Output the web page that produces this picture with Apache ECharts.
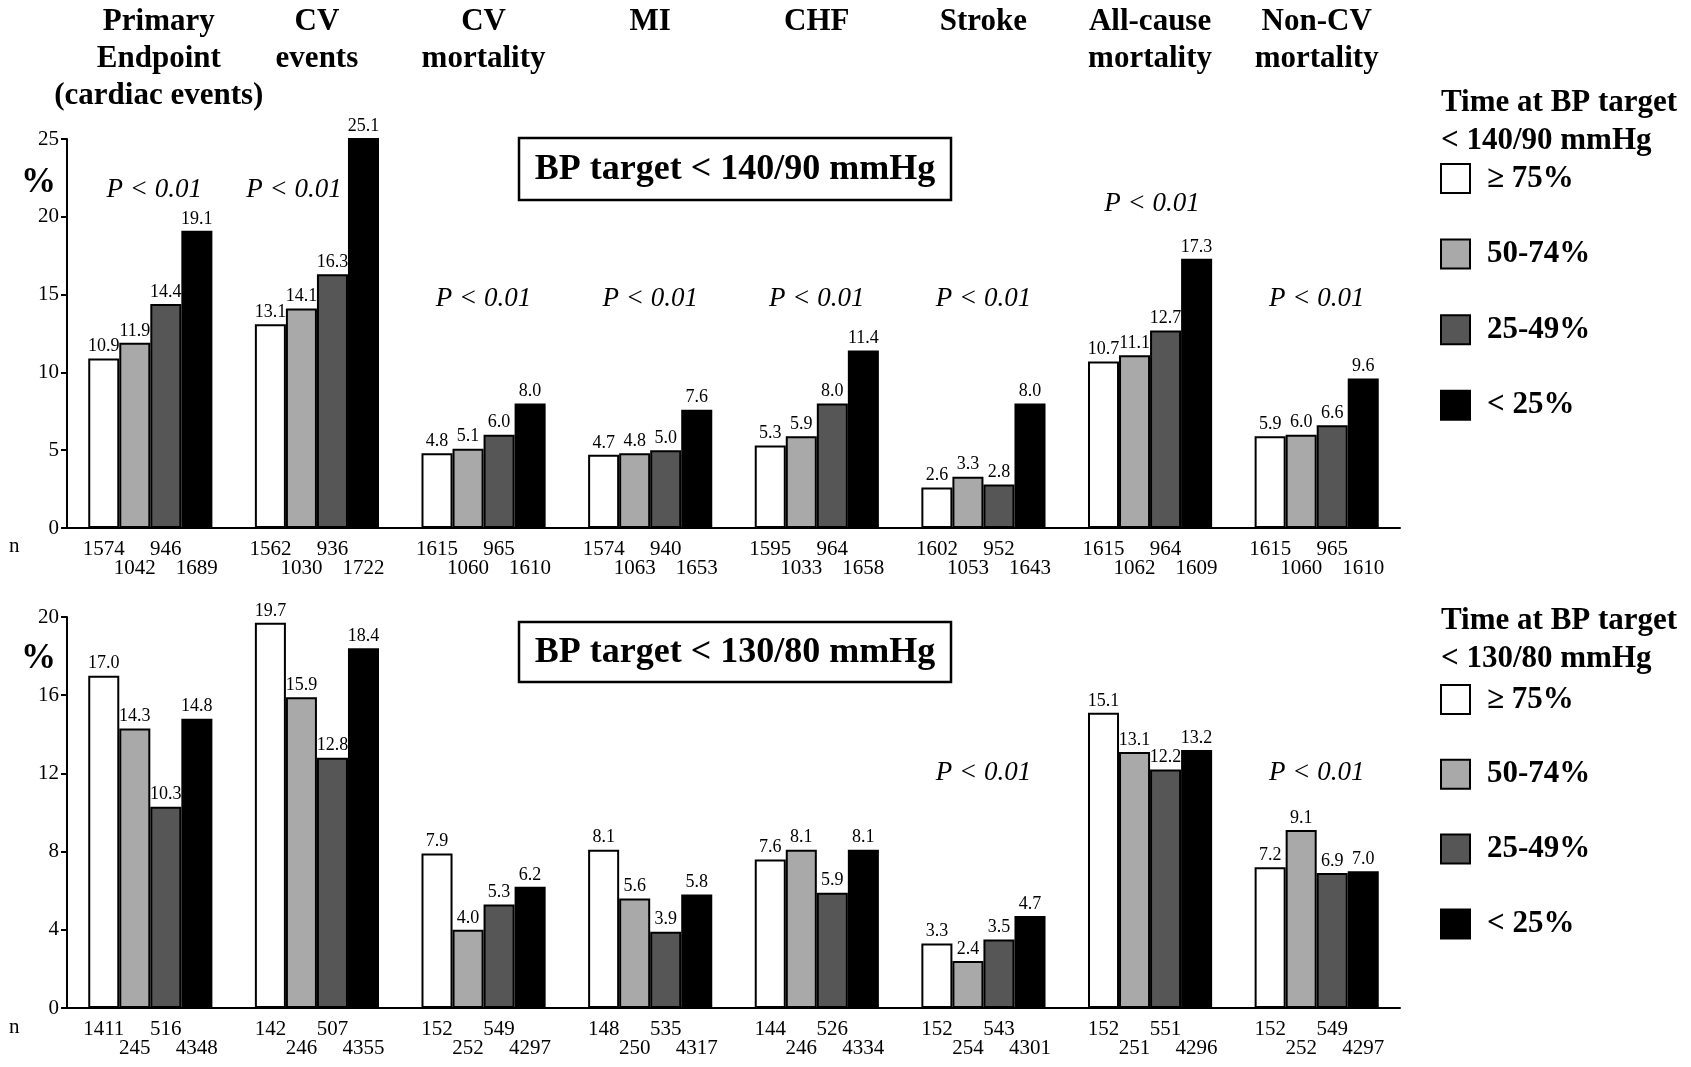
<!DOCTYPE html>
<html><head><meta charset="utf-8">
<script src="https://cdn.jsdelivr.net/npm/echarts@6/dist/echarts.min.js"></script>
<style>html,body{margin:0;padding:0;background:#fff}#c{width:1691px;height:1067px}</style>
</head><body><div id="c"></div>
<script>
// ---------- DATA ----------
const categories = ['Primary\nEndpoint\n(cardiac events)', 'CV\nevents', 'CV\nmortality', 'MI', 'CHF', 'Stroke', 'All-cause\nmortality', 'Non-CV\nmortality'];
const groups = ['≥ 75%', '50-74%', '25-49%', '< 25%'];

// BP target < 140/90 mmHg (%)
const top75   = [10.9, 13.1, 4.8, 4.7, 5.3, 2.6, 10.7, 5.9];
const top50   = [11.9, 14.1, 5.1, 4.8, 5.9, 3.3, 11.1, 6.0];
const top25   = [14.4, 16.3, 6.0, 5.0, 8.0, 2.8, 12.7, 6.6];
const top0    = [19.1, 25.1, 8.0, 7.6, 11.4, 8.0, 17.3, 9.6];
const topN75  = [1574, 1562, 1615, 1574, 1595, 1602, 1615, 1615];
const topN50  = [1042, 1030, 1060, 1063, 1033, 1053, 1062, 1060];
const topN25  = [946, 936, 965, 940, 964, 952, 964, 965];
const topN0   = [1689, 1722, 1610, 1653, 1658, 1643, 1609, 1610];
const topP    = ['P < 0.01', 'P < 0.01', 'P < 0.01', 'P < 0.01', 'P < 0.01', 'P < 0.01', 'P < 0.01', 'P < 0.01'];
const topPY   = [21.7, 21.7, 14.7, 14.7, 14.7, 14.7, 20.8, 14.7];

// BP target < 130/80 mmHg (%)
const bot75   = [17.0, 19.7, 7.9, 8.1, 7.6, 3.3, 15.1, 7.2];
const bot50   = [14.3, 15.9, 4.0, 5.6, 8.1, 2.4, 13.1, 9.1];
const bot25   = [10.3, 12.8, 5.3, 3.9, 5.9, 3.5, 12.2, 6.9];
const bot0    = [14.8, 18.4, 6.2, 5.8, 8.1, 4.7, 13.2, 7.0];
const botN75  = [1411, 142, 152, 148, 144, 152, 152, 152];
const botN50  = [245, 246, 252, 250, 246, 254, 251, 252];
const botN25  = [516, 507, 549, 535, 526, 543, 551, 549];
const botN0   = [4348, 4355, 4297, 4317, 4334, 4301, 4296, 4297];
const botP    = [null, null, null, null, null, 'P < 0.01', null, 'P < 0.01'];
const botPY   = [null, null, null, null, null, 12.0, null, 12.0];

const topTicks = {min: 0, max: 25, interval: 5};
const botTicks = {min: 0, max: 20, interval: 4};

// ---------- STYLE ----------
const SERIF = '"Liberation Serif", "Times New Roman", serif';
const colors = ['#ffffff', '#a9a9a9', '#565656', '#000000'];
const GAP = 0.255;

const chart = echarts.init(document.getElementById('c'), null, {renderer: 'canvas'});

function barSeries(name, data, gi, idx) {
  return {
    type: 'bar', name: name, data: data, xAxisIndex: idx === 0 ? 0 : 2, yAxisIndex: idx,
    barGap: '0%', barCategoryGap: (GAP * 100) + '%',
    itemStyle: {color: colors[gi], borderColor: '#000', borderWidth: 2},
    label: {show: true, position: 'top', distance: 3, fontFamily: SERIF, fontSize: 18, color: '#000',
      formatter: p => p.value.toFixed(1)},
    emphasis: {disabled: true}, animation: false
  };
}

function nSeries(arrs, idx) {
  const data = [];
  arrs.forEach((a, gi) => a.forEach((n, ci) => data.push([ci, gi, n])));
  return {
    type: 'custom', xAxisIndex: idx === 0 ? 0 : 2, yAxisIndex: idx, data: data, silent: true,
    encode: {x: 0, y: 1}, animation: false,
    renderItem: function (params, api) {
      const ci = api.value(0), gi = api.value(1), n = api.value(2);
      const base = api.coord([ci, 0]);
      const band = api.size([1, 0])[0];
      const bw = band * (1 - GAP) / 4;
      const x = base[0] - 2 * bw + (gi + 0.5) * bw;
      const y = base[1] + (gi % 2 ? 40 : 21);
      return {type: 'text', style: {text: String(n), x: x, y: y, align: 'center', verticalAlign: 'middle',
        font: '21px ' + SERIF, fill: '#000'}};
    }
  };
}

function pSeries(texts, ys, idx, offsets) {
  const data = [];
  texts.forEach((t, ci) => {
    if (t) data.push({value: [ci, ys[ci]], txt: t, label: {offset: offsets[ci] || [0, 0]}});
  });
  return {
    type: 'scatter', xAxisIndex: idx === 0 ? 0 : 2, yAxisIndex: idx, data: data, symbolSize: 0,
    itemStyle: {color: '#000'}, silent: true, animation: false,
    label: {show: true, position: 'inside', fontFamily: SERIF, fontSize: 27, fontStyle: 'italic', color: '#000',
      opacity: 1, formatter: p => p.data.txt}
  };
}

const yAxisCommon = {
  type: 'value',
  axisLine: {show: true, lineStyle: {color: '#000', width: 2}},
  axisTick: {show: true, length: 6, lineStyle: {color: '#000', width: 2}},
  axisLabel: {fontFamily: SERIF, fontSize: 21, color: '#000', margin: 8},
  splitLine: {show: false}
};
const xAxisCommon = {
  type: 'category', data: categories,
  axisLine: {show: true, lineStyle: {color: '#000', width: 2}},
  axisTick: {show: false}, axisLabel: {show: false}, splitLine: {show: false}
};

const legendCommon = {
  orient: 'vertical', left: 1435, itemWidth: 29, itemHeight: 29, icon: 'rect', selectedMode: false,
  data: groups,
  itemStyle: {borderColor: '#000', borderWidth: 2},
  textStyle: {fontFamily: SERIF, fontSize: 31, fontWeight: 'bold', color: '#000', lineHeight: 29, padding: [0, 0, 0, 12]}
};

const option = {
  backgroundColor: '#fff',
  animation: false,
  grid: [
    {left: 67, right: 291, top: 139, height: 389, outerBoundsMode: 'none'},
    {left: 67, right: 291, top: 617, height: 391, outerBoundsMode: 'none'}
  ],
  xAxis: [
    Object.assign({}, xAxisCommon, {gridIndex: 0}),
    {type: 'category', data: categories, gridIndex: 0, position: 'top',
      axisLine: {show: false}, axisTick: {show: false}, splitLine: {show: false},
      axisLabel: {show: true, interval: 0, margin: 136, verticalAlign: 'top', fontFamily: SERIF, fontSize: 31,
        fontWeight: 'bold', lineHeight: 37, color: '#000',
        formatter: (v, i) => i === 0 ? '{a|' + v.split('\n').join('}\n{a|') + '}' : v,
        rich: {a: {fontFamily: SERIF, fontSize: 31, fontWeight: 'bold', lineHeight: 37, color: '#000', padding: [0, 0, 0, 17]}}}},
    Object.assign({}, xAxisCommon, {gridIndex: 1})
  ],
  yAxis: [
    Object.assign({}, yAxisCommon, topTicks, {gridIndex: 0}),
    Object.assign({}, yAxisCommon, botTicks, {gridIndex: 1})
  ],
  legend: [
    Object.assign({}, legendCommon, {top: 158, itemGap: 44.6}),
    Object.assign({}, legendCommon, {top: 679, itemGap: 43.8})
  ],
  graphic: [
    {type: 'text', left: 9, top: 536, style: {text: 'n', font: '21px ' + SERIF, fill: '#000'}},
    {type: 'text', left: 9, top: 1017, style: {text: 'n', font: '21px ' + SERIF, fill: '#000'}},
    {type: 'text', left: 21, top: 165, style: {text: '%', font: 'bold 35px ' + SERIF, fill: '#000'}},
    {type: 'text', left: 21, top: 641, style: {text: '%', font: 'bold 35px ' + SERIF, fill: '#000'}},
    {type: 'rect', shape: {x: 519, y: 138, width: 432, height: 62}, style: {fill: '#fff', stroke: '#000', lineWidth: 2.5}, z: 10},
    {type: 'text', x: 735, y: 170, z: 11, style: {text: 'BP target < 140/90 mmHg', font: 'bold 36px ' + SERIF, fill: '#000', align: 'center', verticalAlign: 'middle'}},
    {type: 'rect', shape: {x: 519, y: 622, width: 432, height: 60}, style: {fill: '#fff', stroke: '#000', lineWidth: 2.5}, z: 10},
    {type: 'text', x: 735, y: 653, z: 11, style: {text: 'BP target < 130/80 mmHg', font: 'bold 36px ' + SERIF, fill: '#000', align: 'center', verticalAlign: 'middle'}},
    {type: 'text', left: 1441, top: 84, style: {text: 'Time at BP target\n< 140/90 mmHg', font: 'bold 31px ' + SERIF, lineHeight: 38, fill: '#000'}},
    {type: 'text', left: 1441, top: 602, style: {text: 'Time at BP target\n< 130/80 mmHg', font: 'bold 31px ' + SERIF, lineHeight: 38, fill: '#000'}}
  ],
  series: [
    barSeries(groups[0], top75, 0, 0),
    barSeries(groups[1], top50, 1, 0),
    barSeries(groups[2], top25, 2, 0),
    barSeries(groups[3], top0, 3, 0),
    barSeries(groups[0], bot75, 0, 1),
    barSeries(groups[1], bot50, 1, 1),
    barSeries(groups[2], bot25, 2, 1),
    barSeries(groups[3], bot0, 3, 1),
    nSeries([topN75, topN50, topN25, topN0], 0),
    nSeries([botN75, botN50, botN25, botN0], 1),
    pSeries(topP, topPY, 0, {0: [4, 0], 1: [-23, 0], 6: [2, 0]}),
    pSeries(botP, botPY, 1, {})
  ]
};
chart.setOption(option);
</script></body></html>
